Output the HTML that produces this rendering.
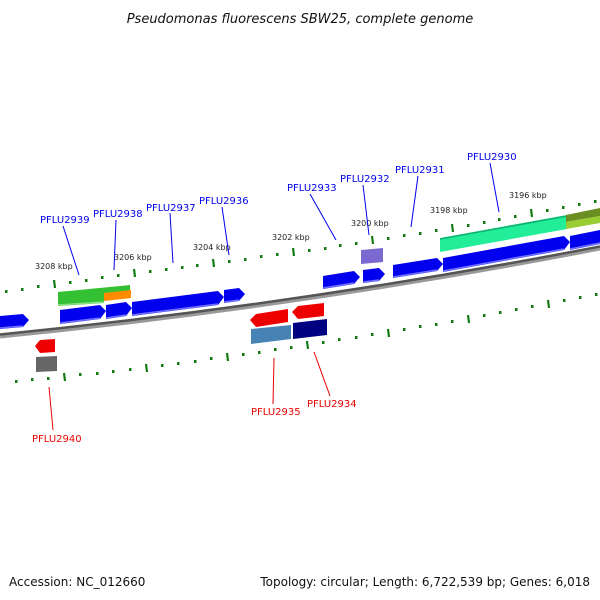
<!DOCTYPE html>
<html><head><meta charset="utf-8"><style>
html,body{margin:0;padding:0;background:#fff;}
svg{display:block;font-family:"DejaVu Sans","Liberation Sans",sans-serif;}
</style></head><body>
<svg width="600" height="600" viewBox="0 0 600 600" xmlns="http://www.w3.org/2000/svg">
<text x="300" y="23" text-anchor="middle" font-size="13" font-style="italic" fill="#111">Pseudomonas fluorescens SBW25, complete genome</text>

<!-- backbone -->
<path d="M0,336 Q300,306 600,248" stroke="#999" stroke-width="5" fill="none"/>
<path d="M0,334.5 Q300,304.5 600,246.5" stroke="#555" stroke-width="2.5" fill="none"/>

<!-- upper ticks -->
<g fill="#117a11">
<rect x="5" y="290" width="2.5" height="3"/><rect x="21" y="288" width="2.5" height="3"/><rect x="37" y="285" width="2.5" height="3"/>
<rect x="69" y="281" width="2.5" height="3"/><rect x="85" y="279" width="2.5" height="3"/><rect x="101" y="276" width="2.5" height="3"/><rect x="117" y="274" width="2.5" height="3"/>
<rect x="149" y="270" width="2.5" height="3"/><rect x="165" y="268" width="2.5" height="3"/><rect x="181" y="266" width="2.5" height="3"/><rect x="196" y="264" width="2.5" height="3"/>
<rect x="228" y="260" width="2.5" height="3"/><rect x="244" y="258" width="2.5" height="3"/><rect x="260" y="255" width="2.5" height="3"/><rect x="276" y="253" width="2.5" height="3"/>
<rect x="308" y="249" width="2.5" height="3"/><rect x="324" y="247" width="2.5" height="3"/><rect x="339" y="244" width="2.5" height="3"/><rect x="355" y="242" width="2.5" height="3"/>
<rect x="387" y="237" width="2.5" height="3"/><rect x="403" y="234" width="2.5" height="3"/><rect x="419" y="232" width="2.5" height="3"/><rect x="435" y="229" width="2.5" height="3"/>
<rect x="467" y="224" width="2.5" height="3"/><rect x="483" y="221" width="2.5" height="3"/><rect x="498" y="218" width="2.5" height="3"/><rect x="514" y="215" width="2.5" height="3"/>
<rect x="546" y="209" width="2.5" height="3"/><rect x="562" y="206" width="2.5" height="3"/><rect x="578" y="203" width="2.5" height="3"/><rect x="594" y="200" width="2.5" height="3"/>
</g>
<g stroke="#117a11" stroke-width="2.2">
<line x1="54" y1="280" x2="55" y2="288"/><line x1="134" y1="269" x2="135" y2="277"/><line x1="213" y1="259" x2="214" y2="267"/><line x1="293" y1="248" x2="294" y2="256"/><line x1="372" y1="236" x2="373" y2="244"/><line x1="452" y1="224" x2="453" y2="232"/><line x1="531" y1="209" x2="532" y2="217"/>
</g>
<g font-size="8" fill="#222">
<text x="35" y="269">3208 kbp</text><text x="114" y="260">3206 kbp</text><text x="193" y="250">3204 kbp</text><text x="272" y="240">3202 kbp</text><text x="351" y="226">3200 kbp</text><text x="430" y="213">3198 kbp</text><text x="509" y="198">3196 kbp</text>
</g>

<!-- lower ticks -->
<g fill="#117a11">
<rect x="15" y="380" width="2.5" height="3"/><rect x="31" y="378" width="2.5" height="3"/><rect x="47" y="377" width="2.5" height="3"/>
<rect x="79" y="373" width="2.5" height="3"/><rect x="96" y="372" width="2.5" height="3"/><rect x="112" y="370" width="2.5" height="3"/><rect x="129" y="368" width="2.5" height="3"/>
<rect x="161" y="364" width="2.5" height="3"/><rect x="177" y="362" width="2.5" height="3"/><rect x="194" y="360" width="2.5" height="3"/><rect x="210" y="357" width="2.5" height="3"/>
<rect x="242" y="353" width="2.5" height="3"/><rect x="258" y="351" width="2.5" height="3"/><rect x="274" y="348" width="2.5" height="3"/><rect x="290" y="346" width="2.5" height="3"/>
<rect x="322" y="341" width="2.5" height="3"/><rect x="338" y="338" width="2.5" height="3"/><rect x="355" y="336" width="2.5" height="3"/><rect x="371" y="333" width="2.5" height="3"/>
<rect x="403" y="328" width="2.5" height="3"/><rect x="419" y="325" width="2.5" height="3"/><rect x="435" y="323" width="2.5" height="3"/><rect x="451" y="320" width="2.5" height="3"/>
<rect x="483" y="314" width="2.5" height="3"/><rect x="499" y="311" width="2.5" height="3"/><rect x="515" y="308" width="2.5" height="3"/><rect x="531" y="305" width="2.5" height="3"/>
<rect x="563" y="299" width="2.5" height="3"/><rect x="579" y="296" width="2.5" height="3"/><rect x="595" y="293" width="2.5" height="3"/>
</g>
<g stroke="#117a11" stroke-width="2.2">
<line x1="64" y1="373" x2="65" y2="381"/><line x1="146" y1="364" x2="147" y2="372"/><line x1="227" y1="353" x2="228" y2="361"/><line x1="307" y1="341" x2="308" y2="349"/><line x1="388" y1="329" x2="389" y2="337"/><line x1="468" y1="315" x2="469" y2="323"/><line x1="548" y1="300" x2="549" y2="308"/>
</g>

<!-- forward genes -->
<g fill="#0000ee">
<polygon points="0,316 23,314 29,320 23,327 0,329"/>
<polygon points="60,310 100,305 106,311 100,319 60,324"/>
<polygon points="106,305 126,302 132,308 126,316 106,319"/>
<polygon points="132,302 218,291 224,297 218,305 132,316"/>
<polygon points="224,290 239,288 245,294 239,301 224,303"/>
<polygon points="323,276 354,271 360,277 354,284 323,289"/>
<polygon points="363,270 379,268 385,274 379,281 363,283"/>
<polygon points="393,265 437,258 443,264 437,271 393,278"/>
<polygon points="443,258 564,236 570,242 564,250 443,272"/>
<polygon points="570,236 600,230 600,244 570,250"/>
</g>
<g stroke="#7070ff" stroke-width="1.5" fill="none">
<line x1="60" y1="323" x2="100" y2="318"/><line x1="106" y1="318" x2="126" y2="315"/><line x1="132" y1="315" x2="218" y2="304"/><line x1="224" y1="302" x2="239" y2="300"/>
<line x1="323" y1="288" x2="354" y2="283"/><line x1="363" y1="282" x2="379" y2="280"/><line x1="393" y1="277" x2="437" y2="270"/><line x1="443" y1="271" x2="564" y2="249"/><line x1="570" y1="249" x2="600" y2="243"/><line x1="0" y1="328" x2="23" y2="326"/>
</g>
<!-- green / orange -->
<polygon points="58,292 130,285 130,291 104,294 104,303 58,306" fill="#33c033"/>
<polygon points="104,293 131,290 131,298 104,301" fill="#ff8c00"/>
<line x1="58" y1="305" x2="104" y2="302" stroke="#88e088" stroke-width="1.5"/>
<!-- purple -->
<polygon points="361,250 383,248 383,262 361,264" fill="#7b68d0"/>
<!-- aqua -->
<polygon points="440,238 567,215 567,229 440,252" fill="#22ee99"/>
<line x1="440" y1="239" x2="567" y2="216" stroke="#10b070" stroke-width="1.5"/>
<!-- olive / yellowgreen -->
<polygon points="566,215 600,208 600,216 566,222" fill="#6b8e23"/>
<polygon points="566,222 600,216 600,223 566,229" fill="#9acd32"/>

<!-- reverse genes -->
<polygon points="35,346 40,340 55,339 55,352 40,353" fill="#ee0000"/>
<polygon points="36,357 57,356 57,371 36,372" fill="#666"/>
<polygon points="250,320 256,314 288,309 288,322 256,327" fill="#ee0000"/>
<polygon points="292,312 298,306 324,303 324,316 298,319" fill="#ee0000"/>
<polygon points="251,329 291,325 291,339 251,344" fill="#4682b4"/>
<polygon points="293,323 327,319 327,335 293,339" fill="#000080"/>

<!-- leader lines -->
<g stroke="#0000ee" stroke-width="1">
<line x1="63" y1="226" x2="79" y2="275"/><line x1="116" y1="220" x2="114" y2="270"/><line x1="170" y1="213" x2="173" y2="263"/><line x1="222" y1="207" x2="229" y2="255"/>
<line x1="310" y1="194" x2="336" y2="240"/><line x1="363" y1="185" x2="369" y2="235"/><line x1="418" y1="176" x2="411" y2="227"/><line x1="490" y1="163" x2="499" y2="212"/>
</g>
<g stroke="#ee0000" stroke-width="1">
<line x1="49" y1="387" x2="53" y2="430"/><line x1="274" y1="358" x2="273" y2="404"/><line x1="314" y1="352" x2="330" y2="396"/>
</g>
<g font-size="10" fill="#0000ee">
<text x="40" y="223">PFLU2939</text><text x="93" y="217">PFLU2938</text><text x="146" y="211">PFLU2937</text><text x="199" y="204">PFLU2936</text>
<text x="287" y="191">PFLU2933</text><text x="340" y="182">PFLU2932</text><text x="395" y="173">PFLU2931</text><text x="467" y="160">PFLU2930</text>
</g>
<g font-size="10" fill="#ee0000">
<text x="32" y="442">PFLU2940</text><text x="251" y="415">PFLU2935</text><text x="307" y="407">PFLU2934</text>
</g>

<text x="9" y="586" font-size="12" fill="#111">Accession: NC_012660</text>
<text x="590" y="586" font-size="12" fill="#111" text-anchor="end">Topology: circular; Length: 6,722,539 bp; Genes: 6,018</text>
</svg>
</body></html>
